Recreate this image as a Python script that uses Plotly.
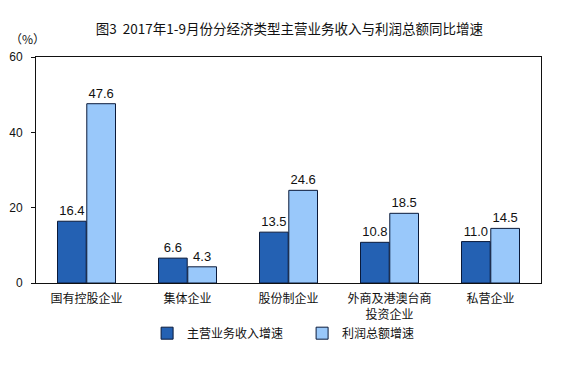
import plotly.graph_objects as go

categories = ["国有控股企业", "集体企业", "股份制企业", "外商及港澳台商<br>投资企业", "私营企业"]
revenue_growth = [16.4, 6.6, 13.5, 10.8, 11.0]
profit_growth = [47.6, 4.3, 24.6, 18.5, 14.5]
series_names = ["主营业务收入增速", "利润总额增速"]
y_ticks = [0, 20, 40, 60]

FONT = "Liberation Sans, Noto Sans CJK SC, sans-serif"
CJK = "Noto Sans CJK SC, sans-serif"

fig = go.Figure()
fig.add_trace(go.Bar(
    x=categories, y=revenue_growth, name=series_names[0],
    marker=dict(color="#2461B3", line=dict(color="#0A1A3A", width=1)),
    text=[f"{v:.1f}" for v in revenue_growth], textposition="outside",
    textfont=dict(family=FONT, size=13, color="#111"), cliponaxis=False,
))
fig.add_trace(go.Bar(
    x=categories, y=profit_growth, name=series_names[1],
    marker=dict(color="#99C8FA", line=dict(color="#0A1A3A", width=1)),
    text=[f"{v:.1f}" for v in profit_growth], textposition="outside",
    textfont=dict(family=FONT, size=13, color="#111"), cliponaxis=False,
))

fig.update_layout(
    width=562, height=365,
    margin=dict(l=36, r=21, t=57, b=82, autoexpand=False),
    paper_bgcolor="white", plot_bgcolor="white",
    barmode="group", bargap=0.42, bargroupgap=0.02,
    font=dict(family=CJK, size=12, color="#111"),
    title=dict(text="图3  2017年1-9月份分经济类型主营业务收入与利润总额同比增速",
               x=0.515, xanchor="center", y=0.92, yanchor="middle",
               font=dict(family=CJK, size=13.5, color="#111")),
    showlegend=True,
    legend=dict(orientation="h", x=0.22, xanchor="left", y=-0.222, yanchor="middle",
                font=dict(family=CJK, size=12, color="#111"),
                itemwidth=30, entrywidth=110, entrywidthmode="pixels",
                tracegroupgap=0, bgcolor="rgba(0,0,0,0)"),
)
fig.update_xaxes(showline=True, linecolor="#111", linewidth=1, mirror=True,
                 ticks="", showgrid=False, automargin=False, ticklabelstandoff=5,
                 tickfont=dict(family=CJK, size=12, color="#111"))
fig.update_yaxes(range=[0, 60], tickvals=y_ticks, showline=True, linecolor="#111",
                 linewidth=1, mirror=True, ticks="outside", ticklen=4, tickcolor="#111",
                 showgrid=False, zeroline=False, automargin=False, ticklabelstandoff=6,
                 tickfont=dict(family=FONT, size=12, color="#111"))
fig.add_annotation(text="（%）", xref="paper", yref="paper", x=-0.055, y=1.035,
                   xanchor="left", yanchor="bottom", showarrow=False,
                   font=dict(family=CJK, size=12, color="#111"))

fig.write_html("out.html", config={"displayModeBar": False},
               post_script="document.body.style.margin='0';")
